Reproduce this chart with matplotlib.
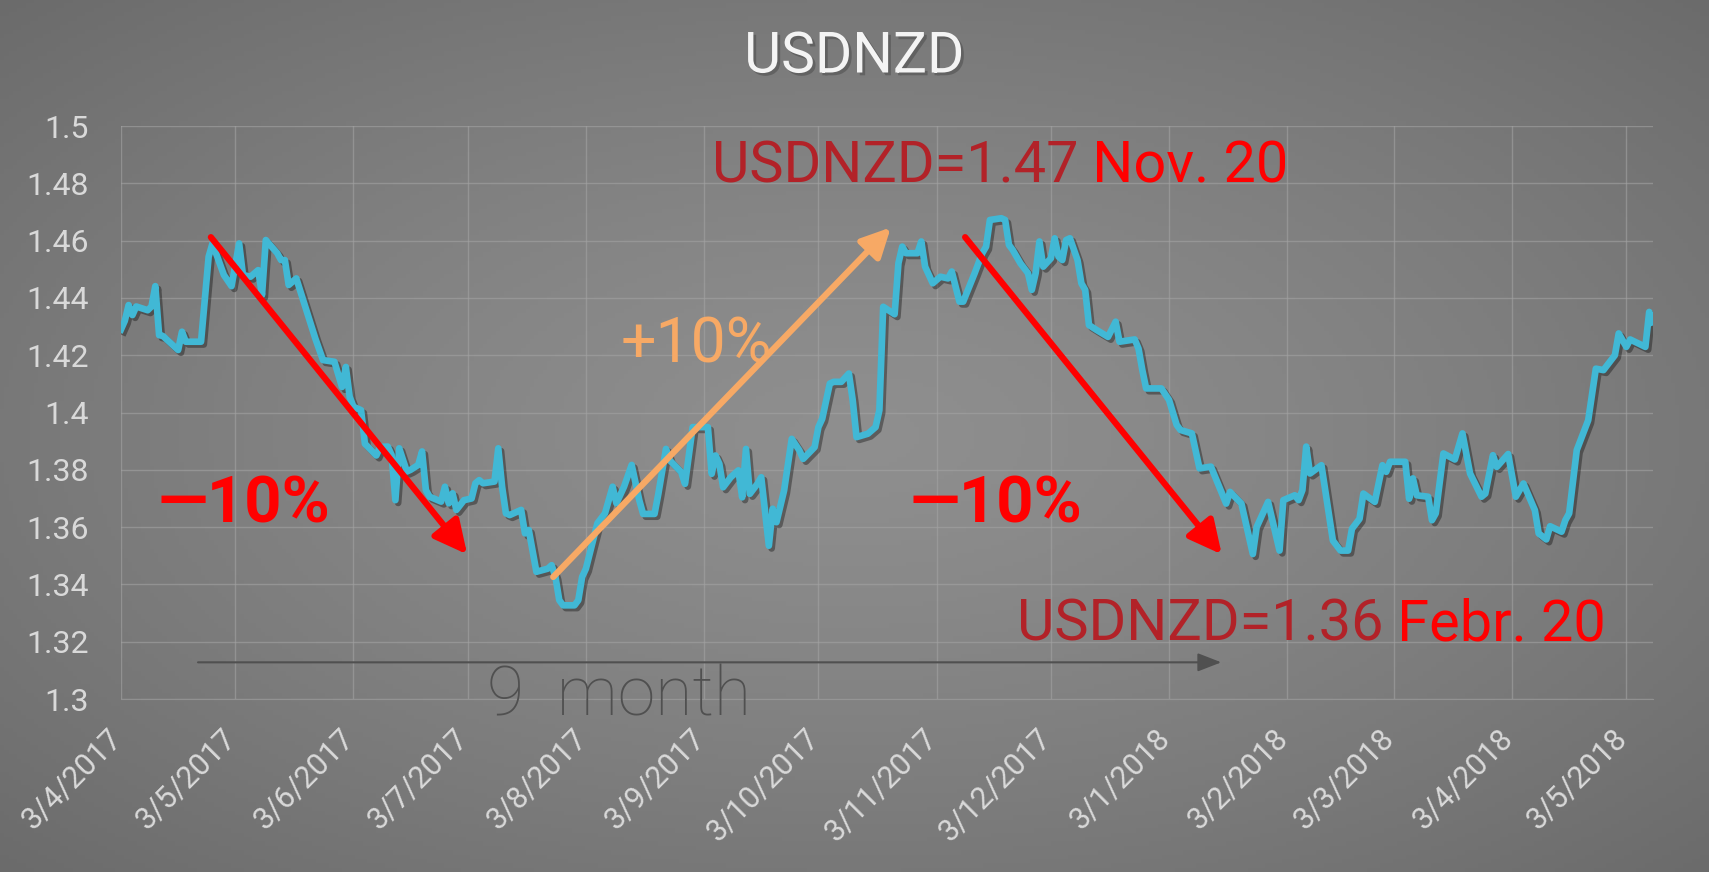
import matplotlib
matplotlib.use('Agg')
import matplotlib.pyplot as plt
import matplotlib.patheffects as pe
from matplotlib.transforms import ScaledTranslation
import numpy as np
import pandas as pd

plt.rcParams['font.family'] = ['Roboto', 'DejaVu Sans']

# USDNZD rate (turning points of the line)
dates = [
    '2017-04-03', '2017-04-04', '2017-04-05', '2017-04-06', '2017-04-07', '2017-04-10', '2017-04-11',
    '2017-04-12', '2017-04-13', '2017-04-14', '2017-04-18', '2017-04-19', '2017-04-20', '2017-04-24',
    '2017-04-26', '2017-04-27', '2017-04-30', '2017-05-02', '2017-05-04', '2017-05-05', '2017-05-07',
    '2017-05-09', '2017-05-10', '2017-05-11', '2017-05-14', '2017-05-15', '2017-05-16', '2017-05-17',
    '2017-05-19', '2017-05-24', '2017-05-26', '2017-05-29', '2017-05-31', '2017-06-01', '2017-06-02',
    '2017-06-03', '2017-06-05', '2017-06-06', '2017-06-09', '2017-06-10', '2017-06-12', '2017-06-13',
    '2017-06-14', '2017-06-15', '2017-06-17', '2017-06-18', '2017-06-20', '2017-06-21', '2017-06-22',
    '2017-06-23', '2017-06-26', '2017-06-27', '2017-06-28', '2017-06-29', '2017-06-30', '2017-07-02',
    '2017-07-04', '2017-07-05', '2017-07-06', '2017-07-07', '2017-07-10', '2017-07-11', '2017-07-12',
    '2017-07-13', '2017-07-14', '2017-07-17', '2017-07-18', '2017-07-19', '2017-07-21', '2017-07-24',
    '2017-07-25', '2017-07-26', '2017-07-27', '2017-07-28', '2017-07-31', '2017-08-01', '2017-08-02',
    '2017-08-03', '2017-08-06', '2017-08-08', '2017-08-10', '2017-08-11', '2017-08-13', '2017-08-15',
    '2017-08-17', '2017-08-18', '2017-08-21', '2017-08-22', '2017-08-24', '2017-08-25', '2017-08-28',
    '2017-08-29', '2017-08-31', '2017-09-04', '2017-09-05', '2017-09-06', '2017-09-07', '2017-09-08',
    '2017-09-10', '2017-09-12', '2017-09-13', '2017-09-14', '2017-09-15', '2017-09-17', '2017-09-18',
    '2017-09-20', '2017-09-21', '2017-09-22', '2017-09-24', '2017-09-26', '2017-09-28', '2017-09-29',
    '2017-10-02', '2017-10-03', '2017-10-04', '2017-10-06', '2017-10-07', '2017-10-09', '2017-10-11',
    '2017-10-12', '2017-10-13', '2017-10-16', '2017-10-18', '2017-10-19', '2017-10-20', '2017-10-23',
    '2017-10-24', '2017-10-25', '2017-10-26', '2017-10-29', '2017-10-30', '2017-10-31', '2017-11-02',
    '2017-11-04', '2017-11-06', '2017-11-07', '2017-11-08', '2017-11-09', '2017-11-10', '2017-11-13',
    '2017-11-15', '2017-11-16', '2017-11-17', '2017-11-20', '2017-11-21', '2017-11-22', '2017-11-23',
    '2017-11-25', '2017-11-27', '2017-11-28', '2017-11-29', '2017-11-30', '2017-12-01', '2017-12-03',
    '2017-12-04', '2017-12-05', '2017-12-06', '2017-12-07', '2017-12-08', '2017-12-10', '2017-12-11',
    '2017-12-12', '2017-12-13', '2017-12-15', '2017-12-18', '2017-12-20', '2017-12-21', '2017-12-25',
    '2017-12-26', '2017-12-27', '2017-12-28', '2018-01-01', '2018-01-03', '2018-01-05', '2018-01-06',
    '2018-01-09', '2018-01-11', '2018-01-14', '2018-01-16', '2018-01-18', '2018-01-19', '2018-01-22',
    '2018-01-25', '2018-01-26', '2018-01-29', '2018-02-01', '2018-02-02', '2018-02-05', '2018-02-06',
    '2018-02-07', '2018-02-08', '2018-02-09', '2018-02-12', '2018-02-15', '2018-02-17', '2018-02-19',
    '2018-02-20', '2018-02-22', '2018-02-23', '2018-02-26', '2018-02-28', '2018-03-01', '2018-03-02',
    '2018-03-06', '2018-03-07', '2018-03-08', '2018-03-09', '2018-03-12', '2018-03-13', '2018-03-14',
    '2018-03-16', '2018-03-19', '2018-03-21', '2018-03-23', '2018-03-26', '2018-03-27', '2018-03-29',
    '2018-03-30', '2018-04-02', '2018-04-04', '2018-04-06', '2018-04-09', '2018-04-10', '2018-04-12',
    '2018-04-13', '2018-04-16', '2018-04-17', '2018-04-18', '2018-04-20', '2018-04-23', '2018-04-25',
    '2018-04-27', '2018-04-30', '2018-05-01', '2018-05-03', '2018-05-04', '2018-05-08', '2018-05-09',
    '2018-05-10',
]
usdnzd = [
    1.4290, 1.4320, 1.4375, 1.4340, 1.4370, 1.4357, 1.4370,
    1.4441, 1.4270, 1.4267, 1.4218, 1.4282, 1.4247, 1.4247,
    1.4544, 1.4590, 1.4480, 1.4441, 1.4590, 1.4480, 1.4474,
    1.4497, 1.4410, 1.4602, 1.4556, 1.4532, 1.4532, 1.4445,
    1.4468, 1.4258, 1.4183, 1.4177, 1.4089, 1.4159, 1.4055,
    1.4020, 1.4008, 1.3891, 1.3850, 1.3880, 1.3881, 1.3852,
    1.3694, 1.3875, 1.3794, 1.3800, 1.3817, 1.3864, 1.3729,
    1.3706, 1.3689, 1.3741, 1.3683, 1.3718, 1.3660, 1.3694,
    1.3700, 1.3753, 1.3764, 1.3753, 1.3759, 1.3875, 1.3741,
    1.3648, 1.3642, 1.3660, 1.3578, 1.3590, 1.3444, 1.3455,
    1.3467, 1.3426, 1.3345, 1.3327, 1.3327, 1.3345, 1.3426,
    1.3455, 1.3613, 1.3648, 1.3741, 1.3683, 1.3741, 1.3817,
    1.3694, 1.3646, 1.3646, 1.3716, 1.3873, 1.3833, 1.3792,
    1.3751, 1.3949, 1.3949, 1.3786, 1.3850, 1.3821, 1.3739,
    1.3774, 1.3798, 1.3704, 1.3873, 1.3716, 1.3751, 1.3774,
    1.3535, 1.3664, 1.3617, 1.3728, 1.3908, 1.3868, 1.3838,
    1.3879, 1.3949, 1.3978, 1.4101, 1.4107, 1.4107, 1.4136,
    1.4043, 1.3914, 1.3926, 1.3949, 1.4008, 1.4369, 1.4343,
    1.4521, 1.4579, 1.4556, 1.4556, 1.4597, 1.4509, 1.4451,
    1.4474, 1.4468, 1.4492, 1.4439, 1.4387, 1.4387, 1.4486,
    1.4556, 1.4579, 1.4672, 1.4678, 1.4672, 1.4585, 1.4567,
    1.4521, 1.4486, 1.4428, 1.4486, 1.4597, 1.4509, 1.4538,
    1.4608, 1.4544, 1.4532, 1.4602, 1.4608, 1.4532, 1.4451,
    1.4428, 1.4305, 1.4288, 1.4264, 1.4317, 1.4247, 1.4255,
    1.4223, 1.4148, 1.4084, 1.4084, 1.4044, 1.3957, 1.3939,
    1.3927, 1.3805, 1.3811, 1.3746, 1.3682, 1.3723, 1.3682,
    1.3506, 1.3600, 1.3688, 1.3518, 1.3694, 1.3711, 1.3694,
    1.3729, 1.3881, 1.3787, 1.3816, 1.3553, 1.3518, 1.3518,
    1.3594, 1.3629, 1.3717, 1.3688, 1.3816, 1.3793, 1.3828,
    1.3828, 1.3699, 1.3770, 1.3711, 1.3706, 1.3624, 1.3648,
    1.3857, 1.3836, 1.3927, 1.3787, 1.3706, 1.3717, 1.3851,
    1.3810, 1.3855, 1.3706, 1.3752, 1.3659, 1.3578, 1.3557,
    1.3603, 1.3584, 1.3624, 1.3648, 1.3869, 1.3973, 1.4153,
    1.4148, 1.4200, 1.4276, 1.4229, 1.4255, 1.4229, 1.4351,
    1.4316,
]
y_ticks = [1.3, 1.32, 1.34, 1.36, 1.38, 1.4, 1.42, 1.44, 1.46, 1.48, 1.5]
x_ticks = pd.date_range('2017-04-03', '2018-05-03', freq=pd.DateOffset(months=1))
x_labels = ['%d/%d/%d' % (d.day, d.month, d.year) for d in x_ticks]

x = pd.to_datetime(dates)

fig = plt.figure(figsize=(17.09, 8.72), dpi=100)

# grey radial background
bg = fig.add_axes([0, 0, 1, 1], zorder=-10)
gx, gy = np.meshgrid(np.linspace(-1, 1, 400), np.linspace(-1, 1, 200))
r = np.clip(np.sqrt(gx ** 2 + gy ** 2) / np.sqrt(2), 0, 1)
shade = 0.56 - 0.14 * r ** 1.3
bg.imshow(np.dstack([shade, shade, shade]), aspect='auto', extent=[0, 1, 0, 1])
bg.axis('off')

ax = fig.add_axes([121 / 1709, 1 - 699 / 872, (1653 - 121) / 1709, (699 - 126) / 872])
ax.set_facecolor('none')

ax.plot(x, usdnzd, color='#41b8d5', lw=4.8, solid_joinstyle='round', zorder=3,
        path_effects=[pe.SimpleLineShadow(offset=(2, -2), shadow_color='black', alpha=0.35),
                      pe.Normal()])

ax.set_xlim(pd.Timestamp('2017-04-03'), pd.Timestamp('2018-05-10'))
ax.set_ylim(1.3, 1.5)
ax.set_yticks(y_ticks)
ax.set_yticklabels(['{:g}'.format(v) for v in y_ticks], fontsize=23)
ax.set_xticks(x_ticks)
ax.set_xticklabels(x_labels, fontsize=22, rotation=45, ha='right', va='center',
                   rotation_mode='anchor')

ax.grid(True, color='#a3a3a3', lw=1, alpha=0.6)
ax.set_axisbelow(True)
for s in ['top', 'right', 'left']:
    ax.spines[s].set_visible(False)
ax.spines['bottom'].set_color('#a3a3a3')
ax.spines['bottom'].set_alpha(0.6)

ax.tick_params(axis='both', length=0, colors='#d9d9d9')
ax.tick_params(axis='y', pad=23)
ax.tick_params(axis='x', pad=25)
shift = ScaledTranslation(-4 / 100, 0, fig.dpi_scale_trans)
for lab in ax.get_xticklabels():
    lab.set_transform(lab.get_transform() + shift)

# title
fig.text(0.5, 1 - 57 / 872, 'USDNZD', ha='center', va='center', fontsize=41,
         color='#f4f4f4', path_effects=[pe.withSimplePatchShadow(offset=(2, -2), alpha=0.5)])

# arrows
def arrow(start, end, color, lw, hl, hw, ms):
    ax.annotate('', xy=(pd.Timestamp(end[0]), end[1]), xytext=(pd.Timestamp(start[0]), start[1]),
                arrowprops=dict(arrowstyle='-|>,head_length=%s,head_width=%s' % (hl, hw),
                                color=color, lw=lw, mutation_scale=ms, shrinkA=0, shrinkB=0),
                zorder=5, annotation_clip=False)

arrow(('2017-04-26 14:00', 1.4612), ('2017-07-02 20:00', 1.3505), '#ff0000', 4.5, 0.8, 0.4, 25)
arrow(('2017-11-10 12:00', 1.4612), ('2018-01-16 20:00', 1.3505), '#ff0000', 4.5, 0.8, 0.4, 25)
arrow(('2017-07-25 10:00', 1.3426), ('2017-10-22', 1.4646), '#f7a965', 4.5, 0.7, 0.35, 25)
arrow(('2017-04-23 05:00', 1.3128), ('2018-01-16 17:00', 1.3128), '#505050', 1.5, 0.9, 0.35, 16)

# texts
ax.text(pd.Timestamp('2017-04-12 17:00'), 1.3617, '\u201410%', color='#ff0000', fontsize=47,
        weight='bold', ha='left', va='baseline')
ax.text(pd.Timestamp('2017-10-27'), 1.3617, '\u201410%', color='#ff0000', fontsize=47,
        weight='bold', ha='left', va='baseline')
ax.text(pd.Timestamp('2017-08-12'), 1.4176, '+10%', color='#f7a965', fontsize=45,
        ha='left', va='baseline')
ax.text(pd.Timestamp('2017-07-08'), 1.2943, '9  month', color='#505050', fontsize=49,
        weight='light', ha='left', va='baseline')

t1 = ax.text(pd.Timestamp('2017-09-05'), 1.4802, 'USDNZD=1.47', color='#b22228', fontsize=41.5,
             ha='left', va='baseline')
ax.annotate(' Nov. 20', xy=(1, 0), xycoords=t1, color='#ff0000', fontsize=41.5,
            ha='left', va='bottom')
t2 = ax.text(pd.Timestamp('2017-11-24'), 1.3205, 'USDNZD=1.36', color='#b22228', fontsize=41.5,
             ha='left', va='baseline')
ax.annotate(' Febr. 20', xy=(1, 0), xycoords=t2, color='#ff0000', fontsize=41.5,
            ha='left', va='bottom')

fig.savefig('out.png', dpi=100)
